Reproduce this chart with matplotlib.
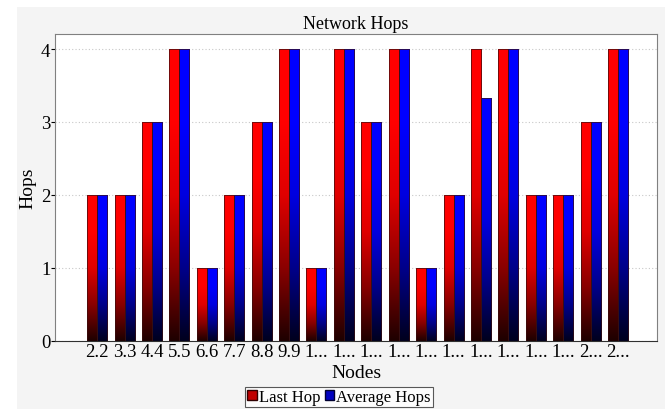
import numpy as np
import matplotlib
matplotlib.use("Agg")
import matplotlib.pyplot as plt
from matplotlib.colors import LinearSegmentedColormap
from matplotlib.patches import Patch, Rectangle

plt.rcParams["font.family"] = ["Liberation Serif", "DejaVu Serif"]

# --- data ---------------------------------------------------------------
nodes = ["2.2", "3.3", "4.4", "5.5", "6.6", "7.7", "8.8", "9.9",
         "1...", "1...", "1...", "1...", "1...", "1...", "1...", "1...",
         "1...", "1...", "2...", "2..."]
last_hop = [2, 2, 3, 4, 1, 2, 3, 4, 1, 4, 3, 4, 1, 2, 4, 4, 2, 2, 3, 4]
avg_hops = [2, 2, 3, 4, 1, 2, 3, 4, 1, 4, 3, 4, 1, 2, 3.33, 4, 2, 2, 3, 4]

red_cmap = LinearSegmentedColormap.from_list(
    "redfade", ["#1e0000", "#8a0000", "#e00000", "#ff0000", "#ff0000"])
blue_cmap = LinearSegmentedColormap.from_list(
    "bluefade", ["#00001e", "#00008a", "#0000e0", "#0000ff", "#0000ff"])

fig = plt.figure(figsize=(6.65, 4.1), dpi=100, facecolor="white")
# light grey panel behind the chart
fig.patches.append(Rectangle((0.026, 0), 0.974, 0.98, transform=fig.transFigure,
                             facecolor="#f4f4f4", edgecolor="none", zorder=-5))
ax = fig.add_axes([0.083, 0.167, 0.905, 0.748])
ax.set_facecolor("white")

x = np.arange(len(nodes))
w = 0.365
grad = np.linspace(0, 1, 256).reshape(-1, 1)


def gradient_bars(xpos, vals, cmap):
    bars = ax.bar(xpos, vals, w, facecolor="none", edgecolor="#3a1010",
                  linewidth=0.5, zorder=3)
    for b in bars:
        x0, y0 = b.get_x(), b.get_y()
        ax.imshow(grad, cmap=cmap, origin="lower", aspect="auto",
                  extent=(x0, x0 + b.get_width(), y0, y0 + b.get_height()),
                  zorder=2, interpolation="bilinear")
    return bars


gradient_bars(x - w / 2, last_hop, red_cmap)
gradient_bars(x + w / 2, avg_hops, blue_cmap)

ax.set_xlim(-1.53, 19 + 1.42)
ax.set_ylim(0, 4.21)
ax.set_yticks([0, 1, 2, 3, 4])
ax.set_xticks(x)
ax.set_xticklabels(nodes, fontsize=13.5)
ax.tick_params(axis="x", length=0, pad=2)
ax.tick_params(axis="y", labelsize=13.5, length=3, pad=0.5)
ax.yaxis.grid(True, linestyle=(0, (1, 2)), color="#c8c8c8", linewidth=0.8)
ax.set_axisbelow(True)

for s in ax.spines.values():
    s.set_color("#808080")
    s.set_linewidth(0.8)
ax.spines["bottom"].set_color("#303030")

ax.set_title("Network Hops", fontsize=13, pad=4)
ax.set_xlabel("Nodes", fontsize=14, labelpad=3)
ax.set_ylabel("Hops", fontsize=14, labelpad=3)

handles = [Patch(facecolor="#c00000", edgecolor="#300000", label="Last Hop"),
           Patch(facecolor="#0000c0", edgecolor="#000030", label="Average Hops")]
leg = fig.legend(handles=handles, loc="center", bbox_to_anchor=(0.51, 0.029),
                 ncol=2, fontsize=12, frameon=True, fancybox=False,
                 handlelength=0.55, handleheight=0.55, handletextpad=0.15,
                 columnspacing=0.25, borderpad=0.12, borderaxespad=0)
leg.get_frame().set_edgecolor("#303030")
leg.get_frame().set_linewidth(0.8)
leg.get_frame().set_facecolor("white")

fig.savefig("out.png", dpi=100, facecolor=fig.get_facecolor())
